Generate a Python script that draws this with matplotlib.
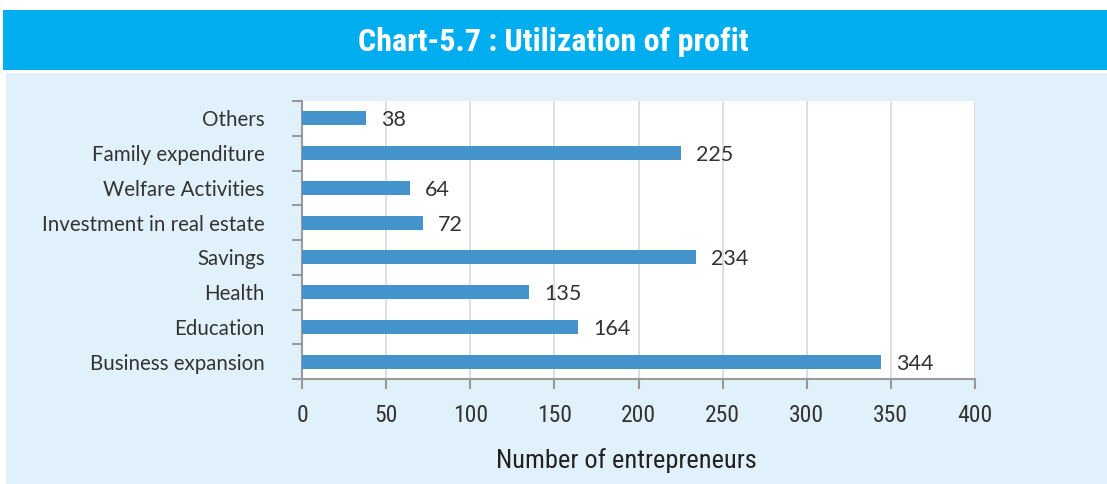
import matplotlib

matplotlib.use("Agg")
import matplotlib.pyplot as plt
from matplotlib.patches import Rectangle
import numpy as np

plt.rcParams["font.family"] = ["Lato", "DejaVu Sans"]
NARROW = ["Liberation Sans Narrow", "Roboto Condensed", "Roboto", "DejaVu Sans"]

# uses of profit, bottom to top
categories = [
    "Business expansion",
    "Education",
    "Health",
    "Savings",
    "Investment in real estate",
    "Welfare Activities",
    "Family expenditure",
    "Others",
]
entrepreneurs = [344, 164, 135, 234, 72, 64, 225, 38]
x_ticks = [0, 50, 100, 150, 200, 250, 300, 350, 400]

W, H = 1107, 484
fig = plt.figure(figsize=(W / 100, H / 100), dpi=100)
fig.patch.set_facecolor("white")

# header bar and light panel behind the axes
fig.patches.append(Rectangle((3 / W, 1 - 70 / H), 1, 60 / H, transform=fig.transFigure,
                             facecolor="#00AEEF", edgecolor="none", zorder=-2))
fig.patches.append(Rectangle((6 / W, 0), 1, 1 - 73 / H, transform=fig.transFigure,
                             facecolor="#E0F1FB", edgecolor="none", zorder=-2))
fig.text(553 / W, 1 - 42 / H, "Chart-5.7 : Utilization of profit", ha="center", va="center",
         color="white", fontsize=23, fontweight="bold", family=NARROW)

ax = fig.add_axes([302 / W, 1 - 379 / H, 673 / W, 278 / H])
ax.set_facecolor("white")
y = np.arange(len(categories))
ax.barh(y, entrepreneurs, height=0.4, color="#4493CD", zorder=3)
for yi, v in zip(y, entrepreneurs):
    ax.text(v + 9, yi - 0.06, str(v), va="center", ha="left", fontsize=15.5, color="#333333")

ax.set_xlim(0, 400)
ax.set_ylim(-0.5, len(categories) - 0.5)
ax.set_xticks(x_ticks)
ax.set_xticklabels([str(t) for t in x_ticks], family=NARROW, fontsize=17, color="#333333")
ax.set_yticks(y)
ax.set_yticklabels(categories, fontsize=14.8, color="#333333")
ax.set_yticks(np.arange(-0.5, len(categories), 1), minor=True)
ax.tick_params(axis="y", which="major", length=0, pad=27)
ax.tick_params(axis="y", which="minor", length=7, color="#999999", width=1.5)
ax.tick_params(axis="x", length=7, color="#999999", width=1.5, pad=11)

ax.grid(axis="x", color="#D9D9D9", linewidth=1.2, zorder=0)
for side in ("top", "right"):
    ax.spines[side].set_visible(False)
for side in ("left", "bottom"):
    ax.spines[side].set_color("#999999")
    ax.spines[side].set_linewidth(1.5)

ax.set_xlabel("Number of entrepreneurs", family=NARROW, fontsize=19, color="#222222")
ax.xaxis.set_label_coords((626 - 302) / 673, -(448 - 379) / 278)

fig.savefig("out.png", dpi=100, facecolor="white")
